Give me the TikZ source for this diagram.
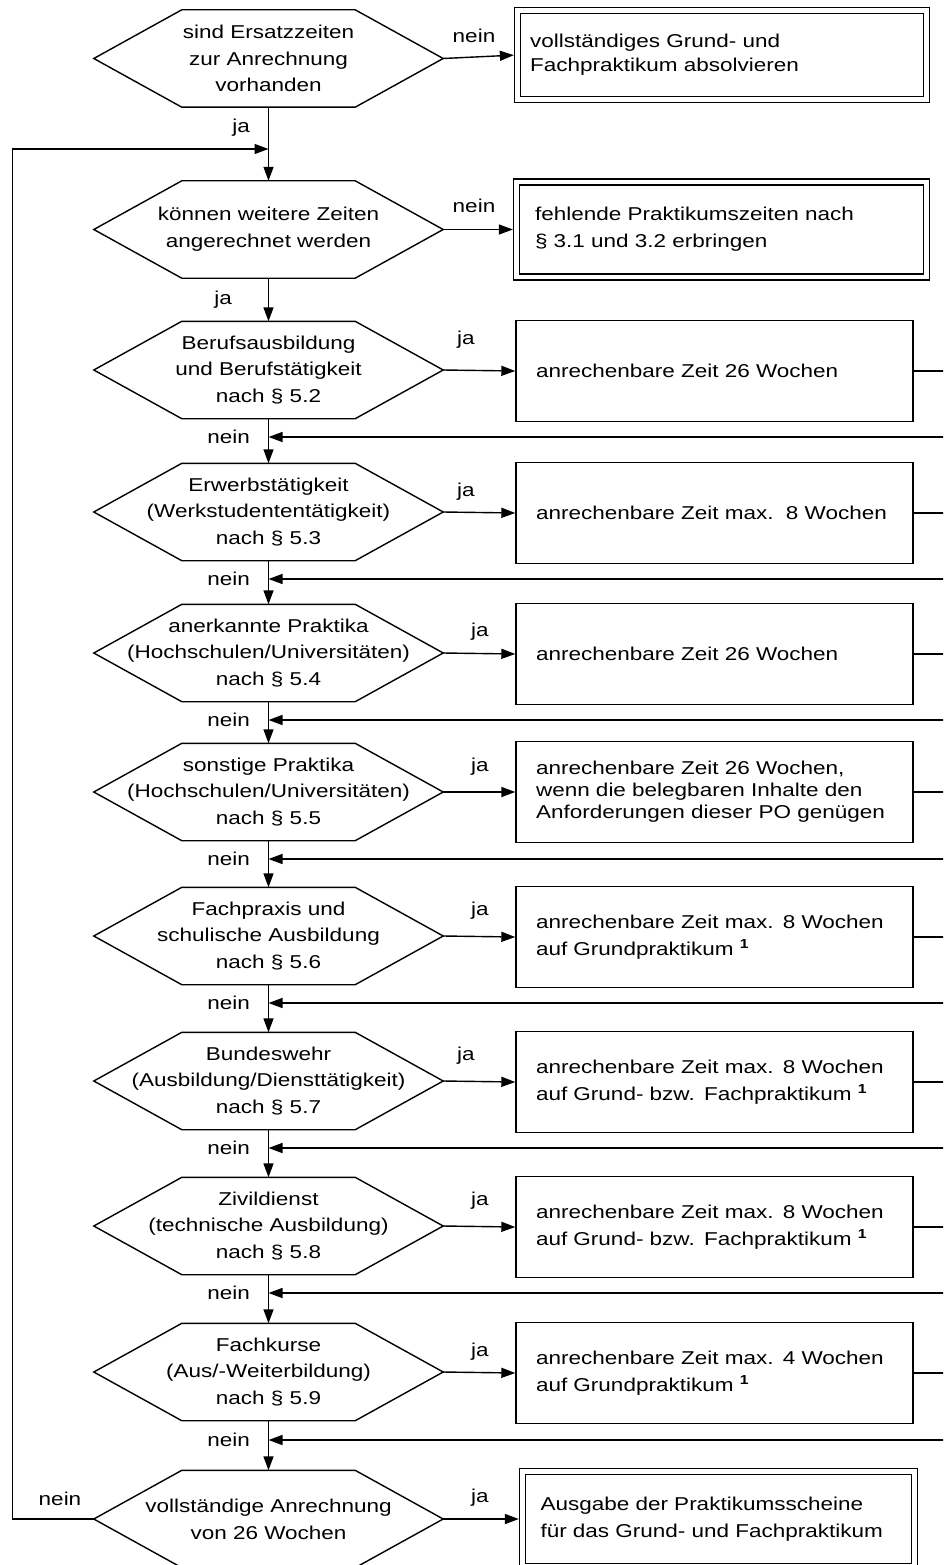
\documentclass[tikz,border=0pt]{standalone}
\usepackage{fontspec}
\setmainfont{Liberation Sans}[FakeStretch=1.21]
\usetikzlibrary{arrows.meta,calc}
\newcommand\myfnt{\fontsize{18.6}{26.7}\selectfont}
\newcommand\drawhex[1]{\draw[ln] (#1.west) -- ($(#1.north west)+(88,0)$) -- ($(#1.north east)+(-88,0)$) -- (#1.east) -- ($(#1.south east)+(-88,0)$) -- ($(#1.south west)+(88,0)$) -- cycle;}
\begin{document}
\begin{tikzpicture}[x=1pt,y=-1pt,
  ln/.style={line width=1.4pt},
  arr/.style={line width=1.4pt,-{Triangle[length=14pt,width=10pt]}},
  hexn/.style={minimum width=349pt,minimum height=97pt,inner sep=0pt,align=center,font=\myfnt},
  boxn/.style={draw,line width=1.4pt,minimum height=101pt,text width=357pt,inner xsep=20pt,inner ysep=0pt,align=left,font=\myfnt},
  dbox/.style={draw,double,double distance=4.5pt,line width=1.3pt,inner ysep=0pt,align=left,font=\myfnt},
  lbl/.style={inner sep=0pt,font=\myfnt}]
\useasboundingbox (0,0) rectangle (943,1565);
\clip (0,0) rectangle (943,1565);
\coordinate (rE) at (950,0);
% decision nodes
\node[hexn] (h1) at (268.5,58.5) {sind Ersatzzeiten\\zur Anrechnung\\vorhanden};
\node[hexn] (h2) at (268.5,229.5) {können weitere Zeiten\\angerechnet werden};
\node[hexn] (h3) at (268.5,370) {Berufsausbildung\\und Berufstätigkeit\\nach § 5.2};
\node[hexn] (h4) at (268.5,512) {Erwerbstätigkeit\\(Werkstudententätigkeit)\\nach § 5.3};
\node[hexn] (h5) at (268.5,653) {anerkannte Praktika\\(Hochschulen/Universitäten)\\nach § 5.4};
\node[hexn] (h6) at (268.5,792) {sonstige Praktika\\(Hochschulen/Universitäten)\\nach § 5.5};
\node[hexn] (h7) at (268.5,936) {Fachpraxis und\\schulische Ausbildung\\nach § 5.6};
\node[hexn] (h8) at (268.5,1081) {Bundeswehr\\(Ausbildung/Diensttätigkeit)\\nach § 5.7};
\node[hexn] (h9) at (268.5,1226) {Zivildienst\\(technische Ausbildung)\\nach § 5.8};
\node[hexn] (h10) at (268.5,1372) {Fachkurse\\(Aus/-Weiterbildung)\\nach § 5.9};
\node[hexn] (h11) at (268.5,1519) {vollständige Anrechnung\\von 26 Wochen};
\foreach \n in {h1,h2,h3,h4,h5,h6,h7,h8,h9,h10,h11} {\drawhex{\n}}
% boxes
\node[dbox,minimum width=409pt,minimum height=89pt,text width=384pt,inner xsep=12.5pt,font=\fontsize{18.6}{24}\selectfont] (b1) at (722,55) {vollständiges Grund- und\\Fachpraktikum absolvieren};
\node[dbox,minimum width=410pt,minimum height=95pt,text width=373pt,inner xsep=18.5pt] (b2) at (721.5,229.5) {fehlende Praktikumszeiten nach\\§ 3.1 und 3.2 erbringen};
\node[boxn] (b3) at (714.5,371) {anrechenbare Zeit 26 Wochen};
\node[boxn] (b4) at (714.5,513) {anrechenbare Zeit max.~~8 Wochen};
\node[boxn] (b5) at (714.5,654) {anrechenbare Zeit 26 Wochen};
\node[boxn,font=\fontsize{18.6}{22}\selectfont] (b6) at (714.5,792) {anrechenbare Zeit 26 Wochen,\\wenn die belegbaren Inhalte den\\Anforderungen dieser PO genügen};
\node[boxn] (b7) at (714.5,937) {anrechenbare Zeit max. 8 Wochen\\auf Grundpraktikum \textsuperscript{\textbf{1}}};
\node[boxn] (b8) at (714.5,1082) {anrechenbare Zeit max. 8 Wochen\\auf Grund- bzw. Fachpraktikum \textsuperscript{\textbf{1}}};
\node[boxn] (b9) at (714.5,1227) {anrechenbare Zeit max. 8 Wochen\\auf Grund- bzw. Fachpraktikum \textsuperscript{\textbf{1}}};
\node[boxn] (b10) at (714.5,1373) {anrechenbare Zeit max. 4 Wochen\\auf Grundpraktikum \textsuperscript{\textbf{1}}};
\node[dbox,minimum width=392pt,minimum height=95pt,text width=356pt,inner xsep=18pt] (b11) at (718.5,1519) {Ausgabe der Praktikumsscheine\\für das Grund- und Fachpraktikum};
% connectors
\draw[arr,shorten >=3pt] (h1.east) -- (b1.west);
\draw[arr,shorten >=3pt] (h2.east) -- (b2.west);
\draw[arr,shorten >=3pt] (h11.east) -- (b11.west);
\draw[arr] (h1.south) -- (h2.north);
\draw[arr] (h2.south) -- (h3.north);
\foreach \i/\j/\r in {3/4/437,4/5/579,5/6/720,6/7/859,7/8/1003,8/9/1148,9/10/1293,10/11/1440} {
  \draw[arr] (h\i.east) -- (b\i.west);
  \draw[ln] (b\i.east) -- (b\i.east -| rE);
  \coordinate (ret\i) at (950,\r);
  \draw[arr] (ret\i) -- (ret\i -| h\i.south);
  \draw[arr] (h\i.south) -- (h\j.north);
}
\coordinate (lp) at (12.3,149);
\draw[arr] (h11.west) -- (h11.west -| lp) -- (lp) -- (lp -| h1.south);
% labels
\node[lbl] (n1) at (474,36) {nein};
\node[lbl,anchor=east] (j1) at (250,128) {ja};
\node[lbl] (n2) at (474,206) {nein};
\node[lbl,anchor=east] (j2) at (232,300) {ja};
\foreach \i/\x/\y/\r in {3/466/340/437,4/466/492/579,5/480/632/720,6/480/767/859,7/480/911/1003,8/466/1056/1148,9/480/1201/1293,10/480/1352/1440} {
  \node[lbl] (j\i) at (\x,\y) {ja};
  \node[lbl,anchor=east] (n\i) at (250,\r) {nein};
}
\node[lbl] (j11) at (480,1498) {ja};
\node[lbl] (n11) at (60,1499) {nein};
\end{tikzpicture}
\end{document}
